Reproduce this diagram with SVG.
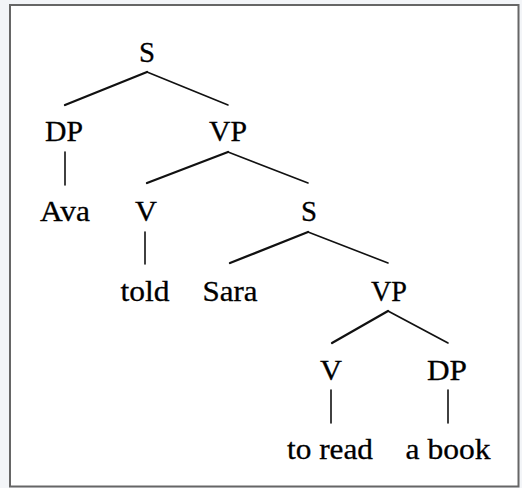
<svg xmlns="http://www.w3.org/2000/svg" width="522" height="488" viewBox="0 0 522 488">
<style>
.t{font-family:"Liberation Serif","Times New Roman",serif;font-size:29px;fill:#000;stroke:#000;stroke-width:0.3;text-anchor:middle}
.e{stroke:#111;stroke-width:1.6;fill:none;stroke-linecap:round}
.l{stroke-width:2.3}
</style>
<rect x="0" y="0" width="522" height="488" fill="#f3f5f8"/>
<rect x="10" y="5" width="508.5" height="481.5" fill="#fff" stroke="#666" stroke-width="2"/>
<g id="connectors">
<line class="e l" x1="147" y1="72" x2="65" y2="105"/>
<line class="e" x1="147" y1="72" x2="228" y2="105"/>
<line class="e" x1="65" y1="152" x2="65" y2="185"/>
<line class="e l" x1="228" y1="152" x2="147" y2="183"/>
<line class="e" x1="228" y1="152" x2="308" y2="183"/>
<line class="e" x1="145" y1="232" x2="145" y2="264"/>
<line class="e l" x1="308" y1="232" x2="230" y2="263"/>
<line class="e" x1="308" y1="232" x2="388" y2="263"/>
<line class="e l" x1="388" y1="311" x2="332" y2="343"/>
<line class="e" x1="388" y1="311" x2="448" y2="343"/>
<line class="e" x1="331" y1="390" x2="331" y2="423"/>
<line class="e" x1="448" y1="390" x2="448" y2="423"/>
</g>
<g id="n-S1"><text class="t" x="147" y="62" textLength="16" lengthAdjust="spacingAndGlyphs">S</text></g>
<g id="n-DP1"><text class="t" x="64" y="141" textLength="38" lengthAdjust="spacingAndGlyphs">DP</text></g>
<g id="n-VP1"><text class="t" x="228" y="141" textLength="38" lengthAdjust="spacingAndGlyphs">VP</text></g>
<g id="n-Ava"><text class="t" x="65" y="221" textLength="50" lengthAdjust="spacingAndGlyphs">Ava</text></g>
<g id="n-V1"><text class="t" x="146" y="221" textLength="22" lengthAdjust="spacingAndGlyphs">V</text></g>
<g id="n-S2"><text class="t" x="309" y="221" textLength="16" lengthAdjust="spacingAndGlyphs">S</text></g>
<g id="n-told"><text class="t" x="145" y="301" textLength="49" lengthAdjust="spacingAndGlyphs">told</text></g>
<g id="n-Sara"><text class="t" x="230" y="301" textLength="55" lengthAdjust="spacingAndGlyphs">Sara</text></g>
<g id="n-VP2"><text class="t" x="389" y="301" textLength="36" lengthAdjust="spacingAndGlyphs">VP</text></g>
<g id="n-V2"><text class="t" x="331" y="380" textLength="22" lengthAdjust="spacingAndGlyphs">V</text></g>
<g id="n-DP2"><text class="t" x="447" y="380" textLength="40" lengthAdjust="spacingAndGlyphs">DP</text></g>
<g id="n-toread"><text class="t" x="330" y="459" textLength="86" lengthAdjust="spacingAndGlyphs">to read</text></g>
<g id="n-abook"><text class="t" x="448" y="459" textLength="85" lengthAdjust="spacingAndGlyphs">a book</text></g>
</svg>
